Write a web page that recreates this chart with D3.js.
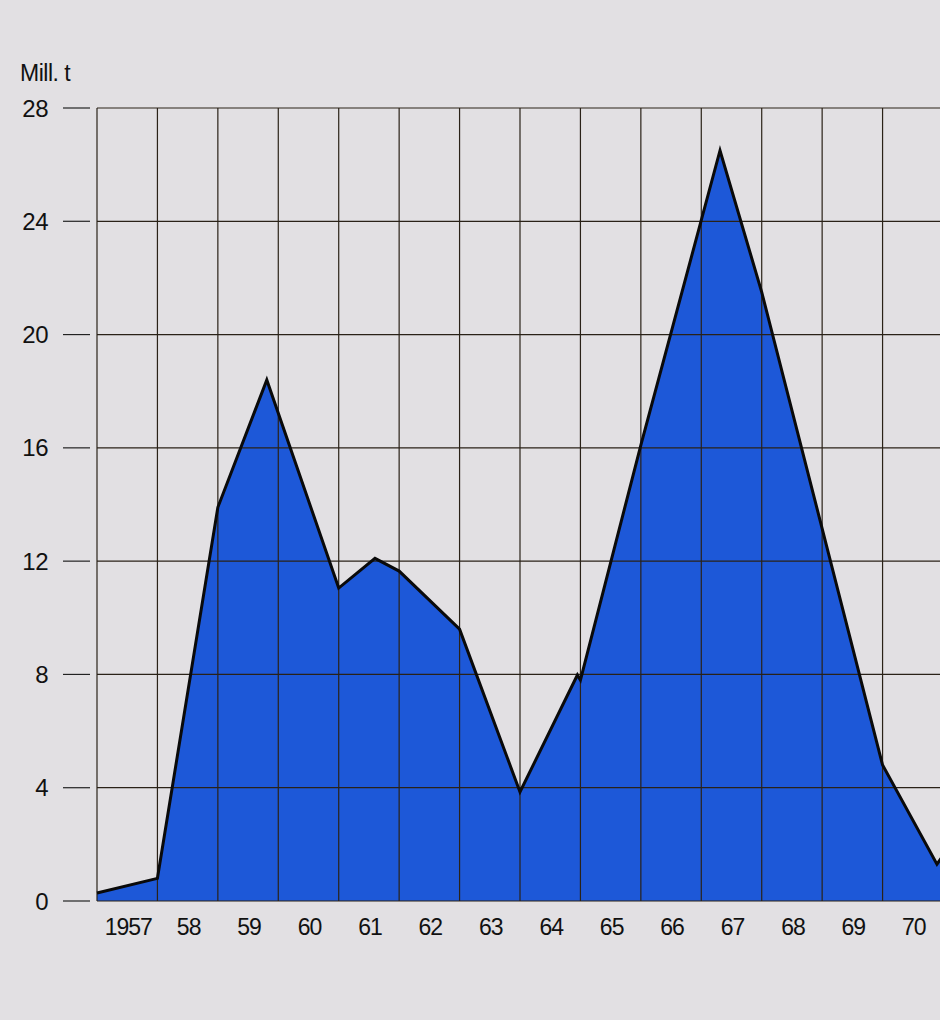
<!DOCTYPE html>
<html>
<head>
<meta charset="utf-8">
<script src="https://cdn.jsdelivr.net/npm/d3@7/dist/d3.min.js"></script>
<style>
  html, body { margin: 0; padding: 0; background: #e2e0e3; }
  svg { display: block; }
  text { font-family: "Liberation Sans", Arial, Helvetica, sans-serif; fill: #111; }
</style>
</head>
<body>
<svg id="chart" width="940" height="1020"></svg>
<script>
// Data: time (fractional year) and value (Mill. t)
const years  = [1957.0, 1958.0, 1959.0, 1959.81, 1961.0, 1961.6, 1962.0, 1963.0, 1964.0, 1964.95, 1965.0, 1966.0, 1967.31, 1968.0, 1970.0, 1970.9, 1971.0];
const values = [0.28,   0.8,    13.9,   18.4,    11.05,  12.1,   11.65,  9.6,    3.85,   7.98,    7.8,    16.1,   26.5,    21.5,   4.8,    1.3,    1.6];
const yTicks = [0, 4, 8, 12, 16, 20, 24, 28];
const xLabels = ["1957", "58", "59", "60", "61", "62", "63", "64", "65", "66", "67", "68", "69", "70"];
const yearBounds = [1957, 1958, 1959, 1960, 1961, 1962, 1963, 1964, 1965, 1966, 1967, 1968, 1969, 1970, 1971];
const unitLabel = "Mill. t";

const svg = d3.select("#chart");
const W = 940;

const x = d3.scaleLinear().domain([1957, 1971]).range([97, 943]);
const y = d3.scaleLinear().domain([0, 28]).range([901, 108]);

const data = years.map((t, i) => ({ t, v: values[i] }));

// Area
const area = d3.area().x(d => x(d.t)).y0(y(0)).y1(d => y(d.v));
svg.append("path").datum(data).attr("d", area).attr("fill", "#1d58d8");

// Horizontal grid lines
svg.append("g").selectAll("line").data(yTicks).join("line")
  .attr("x1", 97).attr("x2", W)
  .attr("y1", d => y(d)).attr("y2", d => y(d))
  .attr("stroke", "#2a2218").attr("stroke-width", 1.2);

// Vertical grid lines
svg.append("g").selectAll("line").data(yearBounds).join("line")
  .attr("x1", d => x(d)).attr("x2", d => x(d))
  .attr("y1", y(28)).attr("y2", y(0))
  .attr("stroke", "#2a2218").attr("stroke-width", 1.2);

// Outline
const line = d3.line().x(d => x(d.t)).y(d => y(d.v));
svg.append("path").datum(data).attr("d", line)
  .attr("fill", "none").attr("stroke", "#0a0a0a")
  .attr("stroke-width", 3).attr("stroke-linejoin", "miter");

// Y axis ticks (dashes) and labels
const yAxis = svg.append("g");
yAxis.selectAll("line").data(yTicks).join("line")
  .attr("x1", 63).attr("x2", 90)
  .attr("y1", d => y(d)).attr("y2", d => y(d))
  .attr("stroke", "#222").attr("stroke-width", 1.2);
yAxis.selectAll("text").data(yTicks).join("text")
  .attr("x", 48).attr("y", d => y(d) + 8.5)
  .attr("text-anchor", "end")
  .attr("font-size", 24)
  .attr("letter-spacing", -0.5)
  .text(d => d);

// X labels centered in each year interval
svg.append("g").selectAll("text").data(xLabels).join("text")
  .attr("x", (d, i) => x(1957 + i + 0.5) + 1)
  .attr("y", 935)
  .attr("text-anchor", "middle")
  .attr("font-size", 23)
  .attr("letter-spacing", -1)
  .text(d => d);

// Unit label
svg.append("text").attr("x", 20).attr("y", 81)
  .attr("font-size", 23).attr("letter-spacing", -0.5)
  .text(unitLabel);
</script>
</body>
</html>
